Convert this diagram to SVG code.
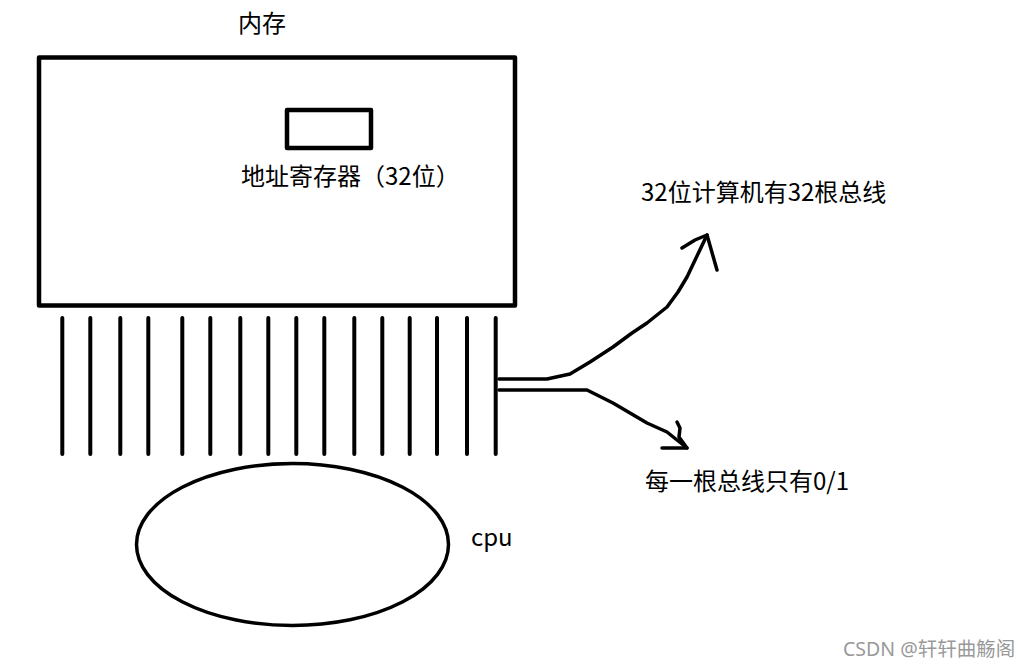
<svg xmlns="http://www.w3.org/2000/svg" width="1031" height="669" viewBox="0 0 1031 669">
<style>
.t{font-family:"Microsoft YaHei","Noto Sans CJK SC","Noto Sans",sans-serif;font-size:24px;fill:#000}
.s{fill:none;stroke:#000;stroke-linecap:round;stroke-linejoin:round}
.bus{stroke:#000;stroke-width:4;stroke-linecap:round}
.wm{font-family:"Noto Sans","Noto Sans CJK SC",sans-serif;font-size:19.5px;fill:#999}
</style>
<rect width="1031" height="669" fill="#fff"/>
<g id="memory">
<rect x="39" y="57.5" width="476" height="248" class="s" stroke-width="4.5" stroke-linecap="butt" stroke-linejoin="miter"/>
<text class="t" x="238" y="32">内存</text>
</g>
<g id="register">
<rect x="287" y="110" width="84" height="38" class="s" stroke-width="4.5" stroke-linecap="butt" stroke-linejoin="miter"/>
<text class="t" x="241" y="185">地址寄存器（32位）</text>
</g>
<g id="bus">
<line class="bus" x1="62.3" y1="318" x2="62.3" y2="454"/>
<line class="bus" x1="90.3" y1="318" x2="90.3" y2="454"/>
<line class="bus" x1="120.3" y1="318" x2="120.3" y2="454"/>
<line class="bus" x1="148.3" y1="318" x2="148.3" y2="454"/>
<line class="bus" x1="182.3" y1="318" x2="182.3" y2="454"/>
<line class="bus" x1="210.3" y1="318" x2="210.3" y2="454"/>
<line class="bus" x1="240.3" y1="318" x2="240.3" y2="454"/>
<line class="bus" x1="268.3" y1="318" x2="268.3" y2="454"/>
<line class="bus" x1="296.3" y1="318" x2="296.3" y2="454"/>
<line class="bus" x1="324.3" y1="318" x2="324.3" y2="454"/>
<line class="bus" x1="354.3" y1="318" x2="354.3" y2="454"/>
<line class="bus" x1="382.3" y1="318" x2="382.3" y2="454"/>
<line class="bus" x1="409.7" y1="318" x2="409.7" y2="454"/>
<line class="bus" x1="437" y1="318" x2="437" y2="454"/>
<line class="bus" x1="467" y1="318" x2="467" y2="454"/>
<line class="bus" x1="495.7" y1="318" x2="495.7" y2="454"/>
</g>
<g id="cpu">
<ellipse cx="292.5" cy="544.5" rx="156" ry="81" class="s" stroke-width="3.5"/>
<text class="t" x="471" y="546">cpu</text>
</g>
<g id="label-32bit">
<text class="t" x="641" y="201">32位计算机有32根总线</text>
</g>
<g id="label-01">
<text class="t" x="645" y="490">每一根总线只有0/1</text>
</g>
<g id="connectors">
<path class="s" stroke-width="3.5" d="M499,379 L547,379 L570,374 L590,362 L613,347 L632,333 L647,323 L667,307 L678,292 L687,277 L697,256 L707,235"/>
<path class="s" stroke-width="3.5" d="M682,248 L695,240 L707,235 L717,270"/>
<path class="s" stroke-width="3.5" d="M499,390 L587,390 L613,403 L630,413 L647,423 L667,432 L687,448"/>
<path class="s" stroke-width="3.5" d="M662,448 L687,448 L679,437 L680,428 L677,422"/>
</g>
<text class="wm" x="843" y="656">CSDN @轩轩曲觞阁</text>
</svg>
